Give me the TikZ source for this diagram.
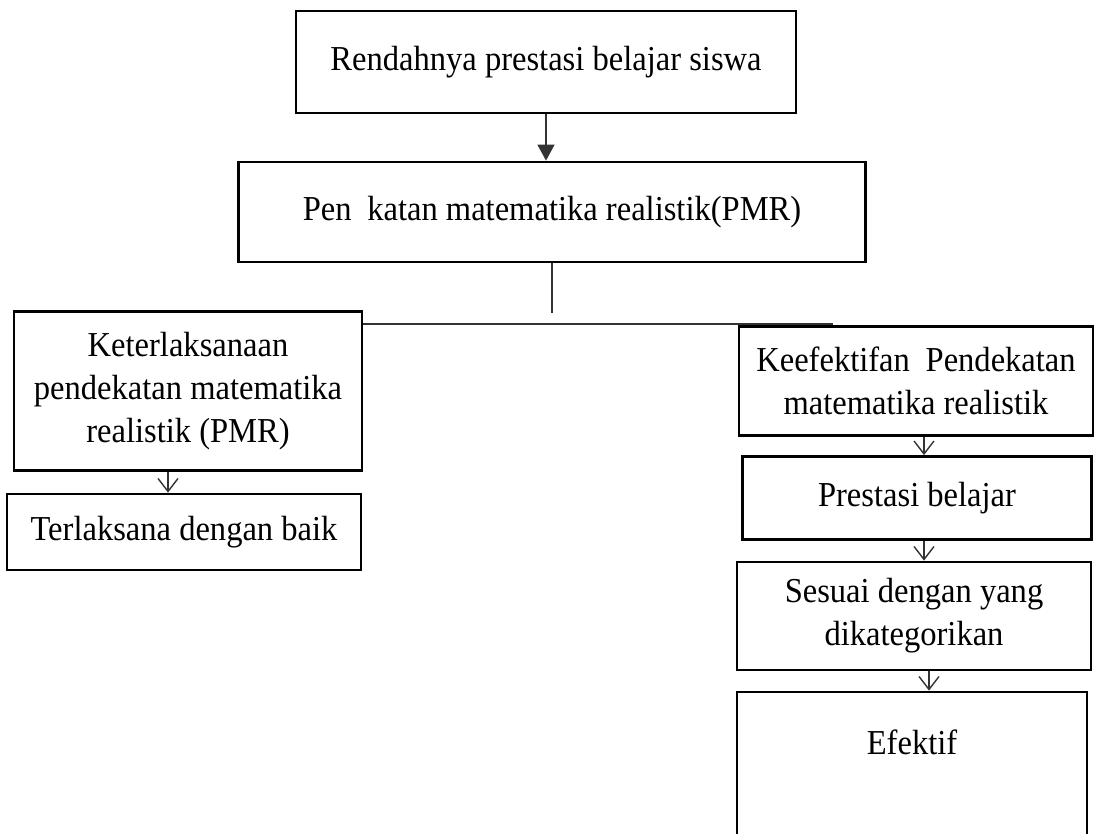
\documentclass[tikz,border=0pt]{standalone}
\usepackage{fontspec}
\setmainfont{Liberation Serif}[FakeStretch=0.93]
\usetikzlibrary{arrows.meta,calc}
\begin{document}
\begin{tikzpicture}[x=1pt,y=-1pt,
  box/.style={draw=black, line width=2.8pt, align=center, inner sep=0pt, font=\fontsize{35}{43}\selectfont},
  txt/.style={align=center, inner sep=0pt, font=\fontsize{35}{43}\selectfont},
  conn/.style={line width=1.4pt, draw=black!80},
  openarr/.style={conn, -{Straight Barb[length=13pt,width=20pt,line width=1.4pt]}},
  fillarr/.style={conn, -{Triangle[length=16pt,width=17pt]}}]
\path[use as bounding box] (0,0) rectangle (1099,834);
\node[box, minimum width=500, minimum height=102] (b1) at (546,62) {Rendahnya prestasi belajar siswa};
\node[box, minimum width=627, minimum height=100] (b2) at (552,212) {Pen\hspace{0.45em}katan matematika realistik(PMR)};
\node[box, minimum width=348, minimum height=159] (b4) at (188,391) {Keterlaksanaan\\pendekatan matematika\\realistik (PMR)};
\node[box, minimum width=354, minimum height=76] (b5) at (184,532) {Terlaksana dengan baik};
\node[box, minimum width=354, minimum height=109] (b6) at (916,381) {Keefektifan\hspace{0.45em}Pendekatan\\matematika realistik};
\node[box, minimum width=349, minimum height=83] (b7) at (917,498) {Prestasi belajar};
\node[box, minimum width=354, minimum height=108] (b8) at (914,616) {Sesuai dengan yang\\dikategorikan};
\node[box, minimum width=350, minimum height=170] (b9) at (912,777) {};
\node[txt] (b9t) at (912,742) {Efektif};
\coordinate (hr) at (833,324);
\coordinate (a1) at ($(b4.south)+(-20,0)$);
\coordinate (a2) at ($(b6.south)+(8,0)$);
\coordinate (a3) at ($(b7.south)+(7,0)$);
\coordinate (a4) at ($(b8.south)+(15,0)$);
\draw[fillarr] (b1.south) -- (b1.south |- b2.north);
\draw[conn] (b2.south) -- ++(0,50);
\draw[conn] (b4.east |- hr) -- (hr);
\draw[openarr] (a1) -- (a1 |- b5.north);
\draw[openarr] (a2) -- (a2 |- b7.north);
\draw[openarr] (a3) -- (a3 |- b8.north);
\draw[openarr] (a4) -- (a4 |- b9.north);
\end{tikzpicture}
\end{document}
